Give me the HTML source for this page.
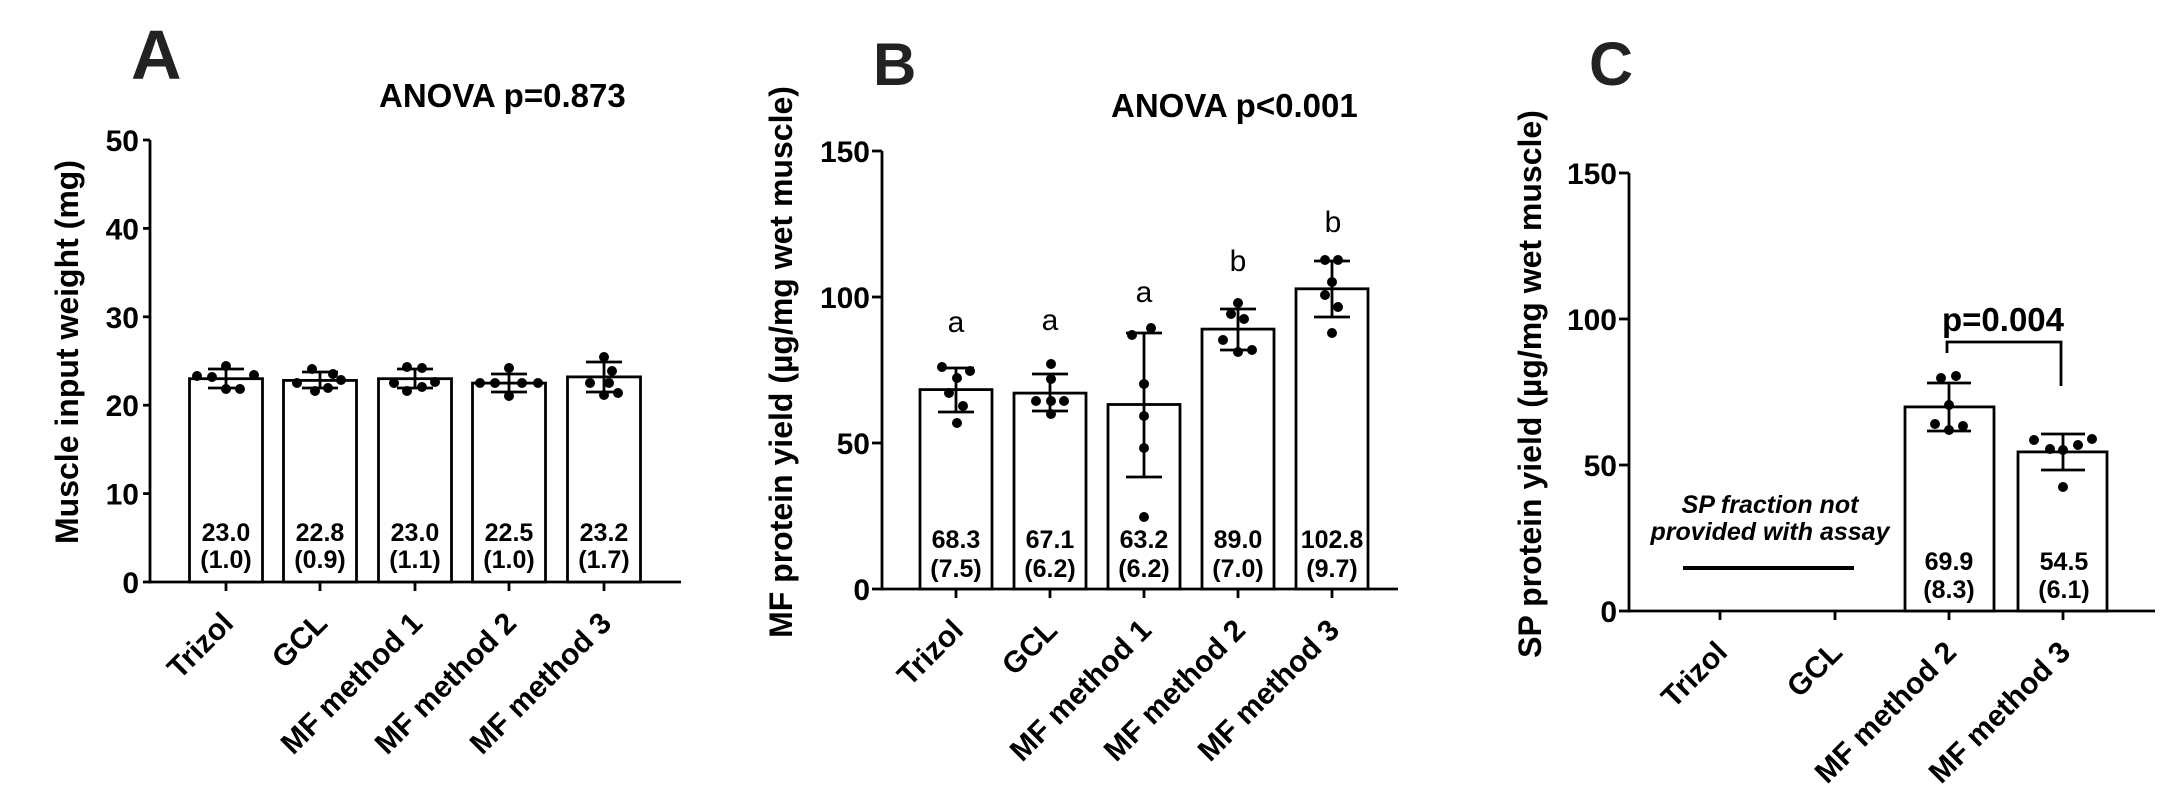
<!DOCTYPE html>
<html>
<head>
<meta charset="utf-8">
<style>
  html, body { margin: 0; padding: 0; background: #fff; }
  svg { display: block; }
  text { font-family: "Liberation Sans", Arial, sans-serif; fill: #000; }
  .b { font-weight: bold; }
  .tick { font-size: 30px; font-weight: bold; }
  .val { font-size: 25px; font-weight: bold; }
  .xl { font-size: 30px; font-weight: bold; }
  .yl { font-size: 32px; font-weight: bold; }
  .ltr { font-size: 30px; font-weight: normal; }
  .panel { font-weight: bold; fill: #222; }
</style>
</head>
<body>
<svg width="2176" height="804" viewBox="0 0 2176 804" xmlns="http://www.w3.org/2000/svg">
  <rect width="2176" height="804" fill="#fff"/>

  <!-- ================= PANEL A ================= -->
  <text class="panel" x="131" y="79" font-size="70">A</text>
  <text class="b" x="379" y="107" font-size="33">ANOVA p=0.873</text>
  <text class="yl" transform="translate(78,352) rotate(-90)" text-anchor="middle">Muscle input weight (mg)</text>

  <g stroke="#000" stroke-width="2.8" fill="none">
    <line x1="150" y1="140" x2="150" y2="583.4"/>
    <line x1="148.6" y1="582" x2="681" y2="582"/>
    <line x1="143" y1="582" x2="150" y2="582"/>
    <line x1="143" y1="493.6" x2="150" y2="493.6"/>
    <line x1="143" y1="405.2" x2="150" y2="405.2"/>
    <line x1="143" y1="316.8" x2="150" y2="316.8"/>
    <line x1="143" y1="228.4" x2="150" y2="228.4"/>
    <line x1="143" y1="140" x2="150" y2="140"/>
    <line x1="226" y1="582" x2="226" y2="591"/>
    <line x1="320" y1="582" x2="320" y2="591"/>
    <line x1="415" y1="582" x2="415" y2="591"/>
    <line x1="509" y1="582" x2="509" y2="591"/>
    <line x1="604" y1="582" x2="604" y2="591"/>
    <rect x="189.5" y="378.7" width="73" height="203.3" fill="#fff"/>
    <rect x="283.5" y="380.4" width="73" height="201.6" fill="#fff"/>
    <rect x="378.5" y="378.7" width="73" height="203.3" fill="#fff"/>
    <rect x="472.5" y="383.1" width="73" height="198.9" fill="#fff"/>
    <rect x="567.5" y="376.9" width="73" height="205.1" fill="#fff"/>
    <path d="M226 369V388M208 369H244M208 388H244"/>
    <path d="M320 372V388M302 372H338M302 388H338"/>
    <path d="M415 369V388M397 369H433M397 388H433"/>
    <path d="M509 374V392M491 374H527M491 392H527"/>
    <path d="M604 362V392M586 362H622M586 392H622"/>
  </g>
  <g fill="#000">
    <circle cx="197" cy="376" r="5"/><circle cx="212" cy="377" r="5"/><circle cx="226" cy="366" r="5"/>
    <circle cx="254" cy="375" r="5"/><circle cx="226" cy="389" r="5"/><circle cx="240" cy="389" r="5"/>

    <circle cx="312" cy="369" r="5"/><circle cx="333" cy="374" r="5"/><circle cx="297" cy="383" r="5"/>
    <circle cx="341" cy="380" r="5"/><circle cx="315" cy="391" r="5"/><circle cx="328" cy="388" r="5"/>

    <circle cx="407" cy="367" r="5"/><circle cx="422" cy="368" r="5"/><circle cx="394" cy="383" r="5"/>
    <circle cx="435" cy="382" r="5"/><circle cx="407" cy="391" r="5"/><circle cx="422" cy="387" r="5"/>

    <circle cx="509" cy="368" r="5"/><circle cx="480" cy="383" r="5"/><circle cx="495" cy="383" r="5"/>
    <circle cx="522" cy="383" r="5"/><circle cx="538" cy="383" r="5"/><circle cx="509" cy="396" r="5"/>

    <circle cx="604" cy="357" r="5"/><circle cx="612" cy="371" r="5"/><circle cx="590" cy="383" r="5"/>
    <circle cx="609" cy="383" r="5"/><circle cx="604" cy="395" r="5"/><circle cx="618" cy="393" r="5"/>
  </g>
  <g class="tick" text-anchor="end">
    <text x="139" y="593">0</text>
    <text x="139" y="504.6">10</text>
    <text x="139" y="416.2">20</text>
    <text x="139" y="327.8">30</text>
    <text x="139" y="239.4">40</text>
    <text x="139" y="151">50</text>
  </g>
  <g class="val" text-anchor="middle">
    <text x="226" y="541">23.0</text><text x="226" y="568">(1.0)</text>
    <text x="320" y="541">22.8</text><text x="320" y="568">(0.9)</text>
    <text x="415" y="541">23.0</text><text x="415" y="568">(1.1)</text>
    <text x="509" y="541">22.5</text><text x="509" y="568">(1.0)</text>
    <text x="604" y="541">23.2</text><text x="604" y="568">(1.7)</text>
  </g>
  <g class="xl" text-anchor="end">
    <text transform="translate(235,625) rotate(-45)">Trizol</text>
    <text transform="translate(329,625) rotate(-45)">GCL</text>
    <text transform="translate(424,625) rotate(-45)">MF method 1</text>
    <text transform="translate(518,625) rotate(-45)">MF method 2</text>
    <text transform="translate(613,625) rotate(-45)">MF method 3</text>
  </g>

  <!-- ================= PANEL B ================= -->
  <text class="panel" x="873" y="85" font-size="60">B</text>
  <text class="b" x="1111" y="117" font-size="33">ANOVA p&lt;0.001</text>
  <text class="yl" transform="translate(792,362) rotate(-90)" text-anchor="middle">MF protein yield (µg/mg wet muscle)</text>

  <g stroke="#000" stroke-width="2.8" fill="none">
    <line x1="882" y1="151" x2="882" y2="590.4"/>
    <line x1="880.6" y1="589" x2="1398" y2="589"/>
    <line x1="872" y1="589" x2="882" y2="589"/>
    <line x1="872" y1="443" x2="882" y2="443"/>
    <line x1="872" y1="297" x2="882" y2="297"/>
    <line x1="872" y1="151" x2="882" y2="151"/>
    <line x1="956" y1="589" x2="956" y2="598"/>
    <line x1="1050" y1="589" x2="1050" y2="598"/>
    <line x1="1144" y1="589" x2="1144" y2="598"/>
    <line x1="1238" y1="589" x2="1238" y2="598"/>
    <line x1="1332" y1="589" x2="1332" y2="598"/>
    <rect x="920" y="389.6" width="72" height="199.4" fill="#fff"/>
    <rect x="1014" y="393.1" width="72" height="195.9" fill="#fff"/>
    <rect x="1108" y="404.5" width="72" height="184.5" fill="#fff"/>
    <rect x="1202" y="329.1" width="72" height="259.9" fill="#fff"/>
    <rect x="1296" y="288.8" width="72" height="300.2" fill="#fff"/>
    <path d="M956 368V412M938 368H974M938 412H974"/>
    <path d="M1050 374V411M1032 374H1068M1032 411H1068"/>
    <path d="M1144 333V477M1126 333H1162M1126 477H1162"/>
    <path d="M1238 309V350M1220 309H1256M1220 350H1256"/>
    <path d="M1332 261V317M1314 261H1350M1314 317H1350"/>
  </g>
  <g fill="#000">
    <circle cx="942" cy="367" r="5"/><circle cx="970" cy="371" r="5"/><circle cx="957" cy="378" r="5"/>
    <circle cx="949" cy="393" r="5"/><circle cx="963" cy="406" r="5"/><circle cx="957" cy="423" r="5"/>

    <circle cx="1051" cy="364" r="5"/><circle cx="1051" cy="379" r="5"/><circle cx="1036" cy="401" r="5"/>
    <circle cx="1051" cy="401" r="5"/><circle cx="1064" cy="401" r="5"/><circle cx="1051" cy="414" r="5"/>

    <circle cx="1151" cy="328" r="5"/><circle cx="1132" cy="335" r="5"/><circle cx="1144" cy="384" r="5"/>
    <circle cx="1144" cy="416" r="5"/><circle cx="1144" cy="448" r="5"/><circle cx="1144" cy="517" r="5"/>

    <circle cx="1238" cy="303" r="5"/><circle cx="1231" cy="314" r="5"/><circle cx="1244" cy="319" r="5"/>
    <circle cx="1223" cy="340" r="5"/><circle cx="1238" cy="352" r="5"/><circle cx="1252" cy="350" r="5"/>

    <circle cx="1325" cy="260" r="5"/><circle cx="1338" cy="260" r="5"/><circle cx="1332" cy="282" r="5"/>
    <circle cx="1325" cy="295" r="5"/><circle cx="1338" cy="307" r="5"/><circle cx="1332" cy="333" r="5"/>
  </g>
  <g class="ltr" text-anchor="middle">
    <text x="956" y="332">a</text>
    <text x="1050" y="330">a</text>
    <text x="1144" y="302">a</text>
    <text x="1238" y="271">b</text>
    <text x="1333" y="232">b</text>
  </g>
  <g class="tick" text-anchor="end">
    <text x="870" y="600">0</text>
    <text x="870" y="454">50</text>
    <text x="870" y="308">100</text>
    <text x="870" y="162">150</text>
  </g>
  <g class="val" text-anchor="middle">
    <text x="956" y="548">68.3</text><text x="956" y="577">(7.5)</text>
    <text x="1050" y="548">67.1</text><text x="1050" y="577">(6.2)</text>
    <text x="1144" y="548">63.2</text><text x="1144" y="577">(6.2)</text>
    <text x="1238" y="548">89.0</text><text x="1238" y="577">(7.0)</text>
    <text x="1332" y="548">102.8</text><text x="1332" y="577">(9.7)</text>
  </g>
  <g class="xl" text-anchor="end">
    <text transform="translate(965,632) rotate(-45)">Trizol</text>
    <text transform="translate(1059,632) rotate(-45)">GCL</text>
    <text transform="translate(1153,632) rotate(-45)">MF method 1</text>
    <text transform="translate(1247,632) rotate(-45)">MF method 2</text>
    <text transform="translate(1341,632) rotate(-45)">MF method 3</text>
  </g>

  <!-- ================= PANEL C ================= -->
  <text class="panel" x="1589" y="85" font-size="61">C</text>
  <text class="yl" transform="translate(1541,384) rotate(-90)" text-anchor="middle">SP protein yield (µg/mg wet muscle)</text>

  <g stroke="#000" stroke-width="2.8" fill="none">
    <line x1="1629" y1="173" x2="1629" y2="612.4"/>
    <line x1="1627.6" y1="611" x2="2155" y2="611"/>
    <line x1="1619" y1="611" x2="1629" y2="611"/>
    <line x1="1619" y1="465" x2="1629" y2="465"/>
    <line x1="1619" y1="319" x2="1629" y2="319"/>
    <line x1="1619" y1="173" x2="1629" y2="173"/>
    <line x1="1720" y1="611" x2="1720" y2="620"/>
    <line x1="1835" y1="611" x2="1835" y2="620"/>
    <line x1="1949" y1="611" x2="1949" y2="620"/>
    <line x1="2063" y1="611" x2="2063" y2="620"/>
    <rect x="1905" y="406.9" width="89" height="204.1" fill="#fff"/>
    <rect x="2018" y="451.9" width="89" height="159.1" fill="#fff"/>
    <path d="M1949 383V431M1927 383H1971M1927 431H1971"/>
    <path d="M2063 434V470M2041 434H2085M2041 470H2085"/>
    <path d="M1947 353V342H2061V386"/>
  </g>
  <line x1="1683" y1="568" x2="1854" y2="568" stroke="#000" stroke-width="4"/>
  <g fill="#000">
    <circle cx="1941" cy="378" r="5"/><circle cx="1956" cy="376" r="5"/><circle cx="1949" cy="405" r="5"/>
    <circle cx="1935" cy="424" r="5"/><circle cx="1963" cy="426" r="5"/><circle cx="1949" cy="430" r="5"/>

    <circle cx="2034" cy="440" r="5"/><circle cx="2050" cy="449" r="5"/><circle cx="2063" cy="450" r="5"/>
    <circle cx="2078" cy="445" r="5"/><circle cx="2092" cy="439" r="5"/><circle cx="2063" cy="487" r="5"/>
  </g>
  <text class="b" x="1942" y="331" font-size="33">p=0.004</text>
  <g text-anchor="middle" font-size="25" font-weight="bold" font-style="italic">
    <text x="1770" y="513">SP fraction not</text>
    <text x="1770" y="540">provided with assay</text>
  </g>
  <g class="tick" text-anchor="end">
    <text x="1617" y="622">0</text>
    <text x="1617" y="476">50</text>
    <text x="1617" y="330">100</text>
    <text x="1617" y="184">150</text>
  </g>
  <g class="val" text-anchor="middle">
    <text x="1949" y="570">69.9</text><text x="1949" y="598">(8.3)</text>
    <text x="2064" y="570">54.5</text><text x="2064" y="598">(6.1)</text>
  </g>
  <g class="xl" text-anchor="end">
    <text transform="translate(1729,654) rotate(-45)">Trizol</text>
    <text transform="translate(1844,654) rotate(-45)">GCL</text>
    <text transform="translate(1958,654) rotate(-45)">MF method 2</text>
    <text transform="translate(2072,654) rotate(-45)">MF method 3</text>
  </g>
</svg>
</body>
</html>
